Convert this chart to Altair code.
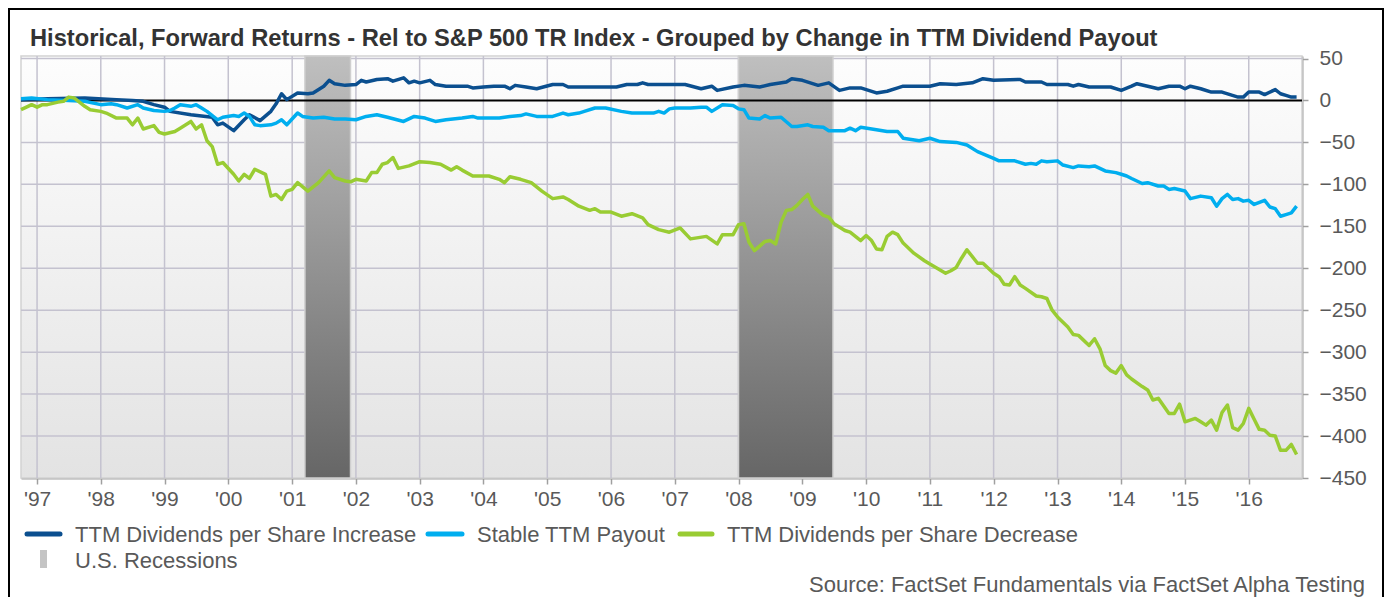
import altair as alt
import pandas as pd

FONT = "Liberation Sans"
TEXT_COLOR = "#595959"

series_names = [
    "TTM Dividends per Share Increase",
    "Stable TTM Payout",
    "TTM Dividends per Share Decrease",
]
series_colors = ["#0b4f8f", "#00aeef", "#99cc33"]

inc_dates = ["1996-10", "1997-03", "1997-10", "1998-04", "1998-07", "1998-09", "1998-11", "1999-01", "1999-02",
             "1999-06", "1999-10", "1999-11", "1999-12", "2000-02", "2000-04", "2000-05", "2000-07", "2000-09",
             "2000-10", "2000-11", "2000-12", "2001-02", "2001-04", "2001-05", "2001-07", "2001-08", "2001-09",
             "2001-11", "2002-01", "2002-02", "2002-03", "2002-05", "2002-07", "2002-08", "2002-10", "2002-11",
             "2002-12", "2003-01", "2003-03", "2003-04", "2003-06", "2003-10", "2003-11", "2004-01", "2004-03",
             "2004-05", "2004-06", "2004-07", "2004-09", "2004-11", "2005-02", "2005-04", "2005-05", "2005-10",
             "2006-02", "2006-04", "2006-06", "2006-07", "2006-08", "2006-12", "2007-03", "2007-06", "2007-08",
             "2007-09", "2007-12", "2008-02", "2008-05", "2008-07", "2008-10", "2008-11", "2009-01", "2009-04",
             "2009-06", "2009-08", "2009-10", "2009-12", "2010-03", "2010-05", "2010-07", "2010-08", "2011-01",
             "2011-03", "2011-06", "2011-09", "2011-11", "2012-01", "2012-06", "2012-07", "2012-10", "2012-11",
             "2013-03", "2013-04", "2013-05", "2013-07", "2013-11", "2014-01", "2014-03", "2014-04", "2014-06",
             "2014-08", "2014-10", "2014-12", "2015-01", "2015-02", "2015-04", "2015-06", "2015-08", "2015-11",
             "2015-12", "2016-01", "2016-03", "2016-04", "2016-06", "2016-07", "2016-08", "2016-09", "2016-10"]
inc_values = [1, 2, 3, 1, 0, -1, -5, -8, -13,
              -17, -20, -29, -27, -36, -23, -17, -24, -13,
              -4, 8, 1, 9, 8, 9, 17, 24, 20,
              18, 19, 24, 22, 25, 26, 23, 27, 21,
              23, 21, 24, 19, 17, 17, 15, 16, 17,
              17, 14, 18, 16, 14, 19, 19, 16, 16,
              16, 19, 19, 21, 19, 19, 19, 14, 17,
              12, 16, 18, 16, 19, 22, 26, 24, 18,
              21, 12, 15, 15, 9, 11, 15, 17, 17,
              20, 19, 21, 26, 24, 25, 22, 22, 19,
              19, 17, 19, 16, 16, 12, 17, 20, 17,
              14, 17, 17, 14, 17, 14, 10, 10, 4,
              4, 10, 10, 7, 13, 8, 6, 4, 4]

stable_dates = ["1996-10", "1996-12", "1997-03", "1997-10", "1998-01", "1998-03", "1998-04", "1998-06", "1998-08",
                "1998-09", "1998-11", "1999-01", "1999-02", "1999-03", "1999-04", "1999-06", "1999-07", "1999-08",
                "1999-09", "1999-11", "1999-12", "2000-02", "2000-03", "2000-04", "2000-05", "2000-06", "2000-07",
                "2000-09", "2000-10", "2000-11", "2000-12", "2001-02", "2001-03", "2001-05", "2001-07", "2001-09",
                "2001-11", "2002-01", "2002-03", "2002-05", "2002-07", "2002-10", "2002-12", "2003-02", "2003-04",
                "2003-06", "2003-09", "2003-11", "2003-12", "2004-04", "2004-06", "2004-08", "2004-09", "2004-11",
                "2005-02", "2005-04", "2005-05", "2005-07", "2005-08", "2005-10", "2005-12", "2006-03", "2006-05",
                "2006-09", "2006-10", "2006-11", "2006-12", "2007-01", "2007-04", "2007-06", "2007-07", "2007-08",
                "2007-10", "2007-12", "2008-01", "2008-02", "2008-03", "2008-05", "2008-06", "2008-07", "2008-09",
                "2008-11", "2008-12", "2009-02", "2009-03", "2009-05", "2009-06", "2009-09", "2009-10", "2009-11",
                "2009-12", "2010-03", "2010-05", "2010-07", "2010-08", "2010-11", "2011-01", "2011-03", "2011-06",
                "2011-08", "2011-10", "2012-01", "2012-02", "2012-05", "2012-07", "2012-08", "2012-09", "2012-10",
                "2012-11", "2013-01", "2013-02", "2013-04", "2013-05", "2013-07", "2013-08", "2013-10", "2013-12",
                "2014-01", "2014-02", "2014-03", "2014-05", "2014-06", "2014-08", "2014-09", "2014-10", "2014-11",
                "2015-01", "2015-02", "2015-04", "2015-06", "2015-07", "2015-08", "2015-09", "2015-10", "2015-11",
                "2015-12", "2016-01", "2016-02", "2016-04", "2016-05", "2016-06", "2016-07", "2016-08", "2016-09",
                "2016-10"]
stable_values = [2, 3, 1, -1, -5, -4, -5, -9, -5,
                 -9, -12, -13, -12, -9, -5, -7, -5, -9,
                 -13, -23, -20, -18, -19, -15, -19, -29, -30,
                 -29, -27, -23, -29, -15, -19, -21, -20, -22,
                 -22, -23, -19, -17, -20, -25, -19, -21, -25,
                 -23, -21, -19, -21, -21, -19, -18, -16, -19,
                 -19, -15, -17, -15, -13, -9, -9, -13, -15,
                 -15, -13, -15, -10, -9, -9, -8, -8, -13,
                 -5, -6, -10, -11, -21, -22, -18, -21, -20,
                 -31, -31, -29, -31, -32, -36, -36, -33, -36,
                 -32, -35, -37, -37, -45, -48, -45, -49, -50,
                 -53, -61, -69, -72, -72, -76, -75, -76, -72,
                 -73, -72, -77, -80, -78, -79, -78, -84, -86,
                 -88, -90, -93, -99, -98, -102, -102, -106, -105,
                 -108, -117, -114, -116, -126, -117, -112, -118, -117,
                 -120, -119, -124, -119, -127, -129, -138, -136, -134,
                 -126]

dec_dates = ["1996-10", "1996-11", "1996-12", "1997-01", "1997-02", "1997-03", "1997-05", "1997-06", "1997-07",
             "1997-08", "1997-10", "1997-11", "1998-01", "1998-02", "1998-04", "1998-06", "1998-07", "1998-08",
             "1998-09", "1998-11", "1998-12", "1999-01", "1999-03", "1999-04", "1999-06", "1999-07", "1999-08",
             "1999-09", "1999-10", "1999-11", "1999-12", "2000-02", "2000-03", "2000-04", "2000-05", "2000-06",
             "2000-08", "2000-09", "2000-10", "2000-11", "2000-12", "2001-01", "2001-02", "2001-04", "2001-06",
             "2001-08", "2001-09", "2001-11", "2001-12", "2002-01", "2002-03", "2002-04", "2002-05", "2002-06",
             "2002-07", "2002-08", "2002-09", "2002-11", "2003-01", "2003-03", "2003-05", "2003-07", "2003-08",
             "2003-09", "2003-11", "2004-02", "2004-04", "2004-05", "2004-06", "2004-08", "2004-10", "2004-12",
             "2005-02", "2005-04", "2005-05", "2005-07", "2005-09", "2005-10", "2005-11", "2006-01", "2006-03",
             "2006-05", "2006-07", "2006-08", "2006-10", "2006-12", "2007-02", "2007-04", "2007-07", "2007-09",
             "2007-10", "2007-12", "2008-01", "2008-02", "2008-03", "2008-04", "2008-06", "2008-07", "2008-08",
             "2008-09", "2008-10", "2008-11", "2008-12", "2009-01", "2009-02", "2009-03", "2009-05", "2009-06",
             "2009-07", "2009-09", "2009-10", "2009-12", "2010-01", "2010-02", "2010-03", "2010-04", "2010-05",
             "2010-06", "2010-07", "2010-08", "2010-10", "2010-12", "2011-01", "2011-04", "2011-05", "2011-06",
             "2011-07", "2011-08", "2011-10", "2011-11", "2012-01", "2012-02", "2012-03", "2012-04", "2012-05",
             "2012-06", "2012-07", "2012-09", "2012-10", "2012-11", "2012-12", "2013-01", "2013-03", "2013-04",
             "2013-05", "2013-07", "2013-08", "2013-09", "2013-10", "2013-11", "2013-12", "2014-01", "2014-02",
             "2014-03", "2014-05", "2014-06", "2014-07", "2014-08", "2014-10", "2014-11", "2014-12", "2015-01",
             "2015-03", "2015-04", "2015-05", "2015-06", "2015-07", "2015-08", "2015-09", "2015-10", "2015-11",
             "2015-12", "2016-01", "2016-02", "2016-03", "2016-04", "2016-05", "2016-06", "2016-07", "2016-08",
             "2016-09", "2016-10"]
dec_values = [-11, -8, -5, -8, -5, -5, -2, -1, 4,
              3, -7, -11, -13, -15, -21, -21, -29, -21,
              -34, -30, -38, -40, -37, -33, -25, -34, -29,
              -48, -55, -76, -74, -88, -96, -88, -93, -82,
              -88, -114, -112, -118, -108, -106, -98, -108, -98,
              -84, -92, -96, -97, -94, -96, -86, -86, -76,
              -74, -68, -81, -78, -73, -74, -76, -83, -79,
              -83, -90, -90, -94, -98, -91, -94, -98, -108,
              -117, -115, -118, -126, -131, -129, -133, -133, -138,
              -135, -140, -148, -154, -157, -152, -165, -162, -171,
              -160, -160, -148, -147, -169, -179, -168, -167, -171,
              -145, -131, -130, -125, -118, -112, -126, -137, -139,
              -147, -155, -157, -167, -161, -167, -177, -178, -162,
              -157, -160, -170, -182, -191, -195, -206, -203, -199,
              -188, -178, -194, -194, -206, -210, -219, -220, -210,
              -220, -224, -233, -234, -236, -250, -258, -270, -279,
              -280, -292, -284, -296, -316, -322, -325, -316, -327,
              -332, -341, -345, -357, -355, -373, -373, -362, -383,
              -379, -383, -387, -381, -393, -372, -363, -390, -393,
              -385, -367, -380, -392, -393, -399, -400, -417, -417,
              -410, -422]

recession_starts = ["2001-03-15", "2008-01-01"]
recession_ends = ["2001-12-01", "2009-06-25"]

grid_years = list(range(1997, 2017))
y_ticks = [50, 0, -50, -100, -150, -200, -250, -300, -350, -400, -450]
y_grid = [50, -50, -100, -150, -200, -250, -300, -350, -400]

title_text = "Historical, Forward Returns - Rel to S&P 500 TR Index - Grouped by Change in TTM Dividend Payout"
recession_label = "U.S. Recessions"
source_text = "Source: FactSet Fundamentals via FactSet Alpha Testing"

# ---------------- data tables ----------------
rows = []
for name, dates, vals in [
    (series_names[0], inc_dates, inc_values),
    (series_names[1], stable_dates, stable_values),
    (series_names[2], dec_dates, dec_values),
]:
    for d, v in zip(dates, vals):
        rows.append({"series": name, "date": d + "-01", "value": v})
lines_df = pd.DataFrame(rows)

rec_df = pd.DataFrame({"start": recession_starts, "end": recession_ends})
xgrid_df = pd.DataFrame({"date": [f"{y}-01-01" for y in grid_years]})
ygrid_df = pd.DataFrame({"value": y_grid})
zero_df = pd.DataFrame({"value": [0]})

X_MIN, X_MAX = "1996-10-01", "2016-11-01"
Y_MIN, Y_MAX = -450, 53
bg_df = pd.DataFrame({"x": [X_MIN], "x2": [X_MAX], "y": [Y_MAX], "y2": [Y_MIN]})
one = pd.DataFrame({"k": [0]})

W, H = 1281, 422

x_scale = alt.Scale(type="utc", domain=[X_MIN, X_MAX], nice=False)
y_scale = alt.Scale(domain=[Y_MIN, Y_MAX], nice=False, zero=False)

x_axis = alt.Axis(
    values=[alt.DateTime(year=y, month=1, date=1, utc=True) for y in grid_years],
    format="'%y", grid=False, title=None,
    labelFont=FONT, labelFontSize=21, labelColor=TEXT_COLOR, labelPadding=4,
    tickSize=6, tickColor="#a0a0a0", tickWidth=1.5,
    domainColor="#a0a0a0", domainWidth=2, labelFlush=False, labelOverlap=False,
)
y_axis = alt.Axis(
    orient="right", values=y_ticks, grid=False, title=None,
    labelFont=FONT, labelFontSize=21, labelColor=TEXT_COLOR, labelPadding=11,
    labelAlign="left", tickSize=6, tickColor="#a0a0a0", tickWidth=1.5,
    domainColor="#a0a0a0", domainWidth=2, labelFlush=False, labelOverlap=False,
)

bg_gradient = alt.Gradient(
    gradient="linear", x1=0, x2=0, y1=0, y2=1,
    stops=[alt.GradientStop(color="#fdfdfd", offset=0), alt.GradientStop(color="#e3e3e3", offset=1)],
)
rec_gradient = alt.Gradient(
    gradient="linear", x1=0, x2=0, y1=0, y2=1,
    stops=[alt.GradientStop(color="#bfbfbf", offset=0), alt.GradientStop(color="#666666", offset=1)],
)

background = alt.Chart(bg_df).mark_rect(fill=bg_gradient, stroke="#d2d2d2", strokeWidth=1.5).encode(
    x=alt.X("x:T", scale=x_scale, axis=x_axis),
    x2="x2:T",
    y=alt.Y("y:Q", scale=y_scale, axis=y_axis),
    y2="y2:Q",
)

xgrid = alt.Chart(xgrid_df).mark_rule(color="#c4c2cf", strokeWidth=1.5).encode(x="date:T")
ygrid = alt.Chart(ygrid_df).mark_rule(color="#c4c2cf", strokeWidth=1.5).encode(y="value:Q")

recessions = alt.Chart(rec_df).mark_rect(fill=rec_gradient, stroke="#cfcfcf", strokeWidth=1.5).encode(
    x="start:T", x2="end:T"
)

zero_line = alt.Chart(zero_df).mark_rule(color="#000000", strokeWidth=2).encode(y="value:Q")

lines = alt.Chart(lines_df).mark_line(strokeWidth=3.5, strokeJoin="round").encode(
    x="date:T",
    y="value:Q",
    color=alt.Color("series:N", scale=alt.Scale(domain=series_names, range=series_colors), legend=None),
)

# ---------------- title, legend, source, frame ----------------
title = alt.Chart(one).mark_text(
    text=title_text, align="left", baseline="alphabetic", font=FONT, fontSize=23.7,
    fontWeight="bold", color="#333333"
).encode(x=alt.value(9), y=alt.value(-10))

legend_layers = []
swatch_x = [(6, 39), (407, 441), (659, 691)]
label_x = [54, 456, 706]
for i, name in enumerate(series_names):
    legend_layers.append(
        alt.Chart(one).mark_rule(color=series_colors[i], strokeWidth=5, strokeCap="round").encode(
            x=alt.value(swatch_x[i][0]), x2=alt.value(swatch_x[i][1]), y=alt.value(478)
        )
    )
    legend_layers.append(
        alt.Chart(one).mark_text(
            text=name, align="left", baseline="alphabetic", font=FONT, fontSize=22, color=TEXT_COLOR
        ).encode(x=alt.value(label_x[i]), y=alt.value(486))
    )
legend_layers.append(
    alt.Chart(one).mark_rect(color="#c4c4c4").encode(
        x=alt.value(19), x2=alt.value(26), y=alt.value(494), y2=alt.value(512)
    )
)
legend_layers.append(
    alt.Chart(one).mark_text(
        text=recession_label, align="left", baseline="alphabetic", font=FONT, fontSize=22, color=TEXT_COLOR
    ).encode(x=alt.value(54), y=alt.value(512))
)

source = alt.Chart(one).mark_text(
    text=source_text, align="right", baseline="alphabetic", font=FONT, fontSize=22, color=TEXT_COLOR
).encode(x=alt.value(1344), y=alt.value(536))

frame_left = alt.Chart(one).mark_rule(color="#000000", strokeWidth=2).encode(
    x=alt.value(-12), y=alt.value(-47), y2=alt.value(H + 119)
)
frame_top = alt.Chart(one).mark_rule(color="#000000", strokeWidth=2).encode(
    x=alt.value(-13), x2=alt.value(1363), y=alt.value(-47)
)
frame_right = alt.Chart(one).mark_rule(color="#000000", strokeWidth=2).encode(
    x=alt.value(1362), y=alt.value(-47), y2=alt.value(H + 119)
)

chart = alt.layer(
    background, xgrid, ygrid, recessions, zero_line, lines,
    title, *legend_layers, source, frame_left, frame_top, frame_right,
).properties(
    width=W, height=H,
    autosize=alt.AutoSizeParams(type="none"),
    padding={"left": 13, "top": 48, "right": 82, "bottom": 119},
).configure_view(stroke=None).configure(background="#ffffff")

chart.save("out.html", embed_options={"renderer": "svg", "actions": False})
